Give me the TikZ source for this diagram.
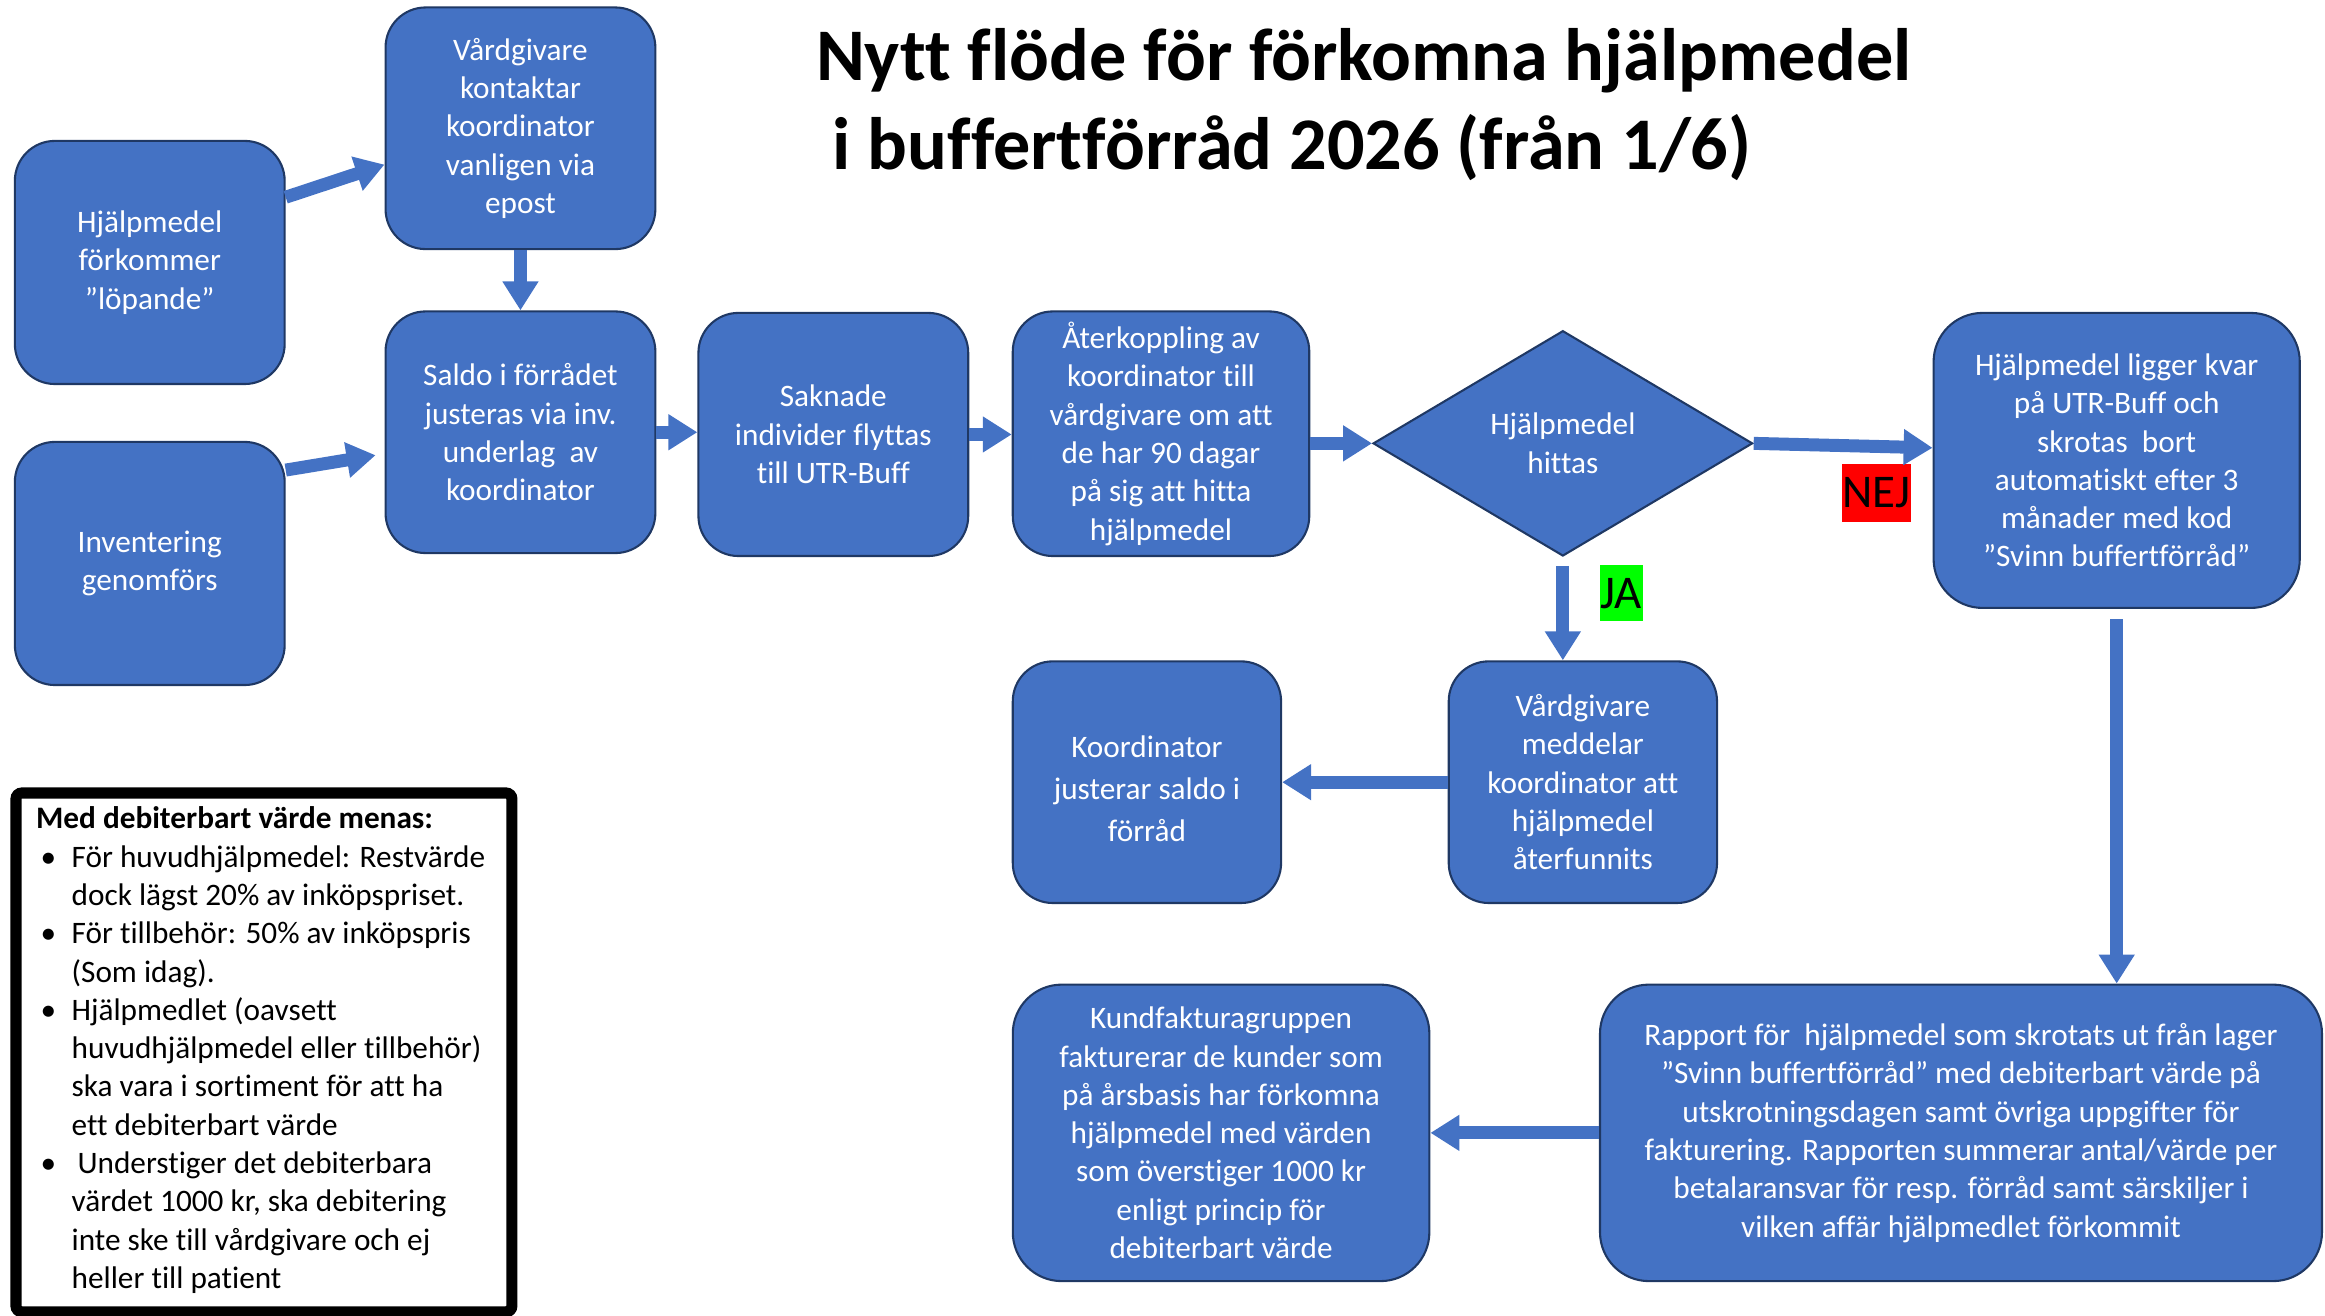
\documentclass[tikz,border=0pt]{standalone}
\usepackage{fontspec}
\setmainfont{Carlito}[Ligatures={NoCommon}]
\usetikzlibrary{arrows.meta,shapes.geometric,calc}
\definecolor{boxblue}{HTML}{4472C4}
\definecolor{boxline}{HTML}{1F3864}
\definecolor{nejred}{HTML}{FF0000}
\definecolor{jagreen}{HTML}{00FF00}
\newcommand\legbul{\makebox[0.48cm][l]{\hspace{0.06cm}•}}
\newcommand\legind{\hspace*{0.48cm}}
\begin{document}
\begin{tikzpicture}[x=0.02cm,y=-0.02cm,
  box/.style={draw=boxline, line width=0.8pt, fill=boxblue, text=white,
    align=center, inner sep=2pt, rounded corners=0.54cm,
    font=\fontsize{12}{14.7}\selectfont},
  bigbox/.style={box, rounded corners=0.66cm},
  flow/.style={draw=boxblue, line width=0.175cm,
    -{Triangle[width=0.46cm,length=0.39cm]}},
  tag/.style={inner sep=0pt, font=\fontsize{18}{20}\selectfont, text=black}]
\useasboundingbox (0,0) rectangle (1568,887);

% title
\node[anchor=base west, inner sep=0pt, font=\fontsize{28.5}{30}\selectfont\bfseries] (title1) at (550,54) {Nytt flöde för förkomna hjälpmedel};
\node[anchor=base west, inner sep=0pt, font=\fontsize{28.5}{30}\selectfont\bfseries] (title2) at (550,114) {\ i buffertförråd 2026 (från 1/6)};

% boxes
\node[box, minimum width=3.64cm, minimum height=3.28cm] (A) at (101,177) {Hjälpmedel\\förkommer\\”löpande”};
\node[box, minimum width=3.64cm, minimum height=3.26cm] (B) at (351,86.5) {Vårdgivare\\kontaktar\\koordinator\\vanligen via\\epost};
\node[box, minimum width=3.64cm, minimum height=3.26cm] (C) at (351,291.5) {Saldo i förrådet\\justeras via inv.\\underlag\ \ av\\koordinator};
\node[box, minimum width=3.64cm, minimum height=3.28cm] (D) at (101,380) {Inventering\\genomförs};
\node[box, minimum width=3.64cm, minimum height=3.28cm] (E) at (562,293) {Saknade\\individer flyttas\\till UTR-Buff};
\node[box, minimum width=4.0cm, minimum height=3.3cm] (F) at (783,292.5) {Återkoppling av\\koordinator till\\vårdgivare om att\\de har 90 dagar\\på sig att hitta\\hjälpmedel};
\node[box, diamond, rounded corners=0pt, aspect=1.684, minimum width=5.12cm, minimum height=3.04cm, inner sep=0pt] (G) at (1054,299) {Hjälpmedel\\hittas};
\node[bigbox, minimum width=4.94cm, minimum height=3.98cm] (H) at (1427.5,310.5) {Hjälpmedel ligger kvar\\på UTR-Buff och\\skrotas\ \ bort\\automatiskt efter 3\\månader med kod\\”Svinn buffertförråd”};
\node[box, minimum width=3.62cm, minimum height=3.26cm] (I) at (1067.5,527.5) {Vårdgivare\\meddelar\\koordinator att\\hjälpmedel\\återfunnits};
\node[box, minimum width=3.62cm, minimum height=3.26cm] (J) at (773.5,527.5) {};
\node[text=white, align=center, inner sep=0pt, font=\fontsize{12}{16.2}\selectfont] (Jtext) at (773.5,532) {Koordinator\\justerar saldo i\\förråd};
\node[bigbox, minimum width=9.74cm, minimum height=4.0cm] (K) at (1322.5,764) {Rapport för\ \ hjälpmedel som skrotats ut från lager\\”Svinn buffertförråd” med debiterbart värde på\\utskrotningsdagen samt övriga uppgifter för\\fakturering. Rapporten summerar antal/värde per\\betalaransvar för resp. förråd samt särskiljer i\\vilken affär hjälpmedlet förkommit};
\node[bigbox, minimum width=5.62cm, minimum height=4.0cm] (L) at (823.5,764) {Kundfakturagruppen\\fakturerar de kunder som\\på årsbasis har förkomna\\hjälpmedel med värden\\som överstiger 1000 kr\\enligt princip för\\debiterbart värde};

% tags
\node[tag, fill=nejred, minimum width=0.94cm, minimum height=0.78cm] (nej) at (1265.5,332.5) {NEJ};
\node[tag, fill=jagreen, minimum width=0.58cm, minimum height=0.76cm] (ja) at (1093.5,400) {JA};

% connectors
\draw[flow] ([yshift=0.88cm]A.east) -- ([yshift=-0.49cm]B.west);
\draw[flow] ([yshift=1.26cm]D.east) -- ([xshift=-0.12cm,yshift=-0.31cm]C.west);
\draw[flow] (B.south) -- (C.north);
\draw[flow] (C.east) -- (C.east -| E.west);
\draw[flow] (E.east) -- (E.east -| F.west);
\draw[flow] (F.east |- G.west) -- (G.west);
\draw[flow] (G.east) -- ([yshift=0.17cm]H.west);
\draw[flow] ([yshift=-0.12cm]G.south) -- (G.south |- I.north);
\draw[flow] (I.west) -- (J.east);
\draw[flow] ([yshift=-0.14cm]H.south) -- (H.south |- K.north);
\draw[flow] (K.west) -- (L.east);

% legend
\node[draw=black, line width=0.15cm, rounded corners=0.08cm, minimum width=6.69cm, minimum height=7.0cm, inner sep=0pt] (legend) at (178,709.75) {};
\node[anchor=base west, inner sep=0pt, text=black, font=\fontsize{12}{14.7}\selectfont] (legtext) at (24,559) {\parbox[t]{6.4cm}{%
\textbf{Med debiterbart värde menas:}\\
\legbul För huvudhjälpmedel: Restvärde\\
\legind dock lägst 20\% av inköpspriset.\\
\legbul För tillbehör: 50\% av inköpspris\\
\legind (Som idag).\\
\legbul Hjälpmedlet (oavsett\\
\legind huvudhjälpmedel eller tillbehör)\\
\legind ska vara i sortiment för att ha\\
\legind ett debiterbart värde\\
\legbul\hspace{0.08cm}Understiger det debiterbara\\
\legind värdet 1000 kr, ska debitering\\
\legind inte ske till vårdgivare och ej\\
\legind heller till patient}};
\end{tikzpicture}
\end{document}
